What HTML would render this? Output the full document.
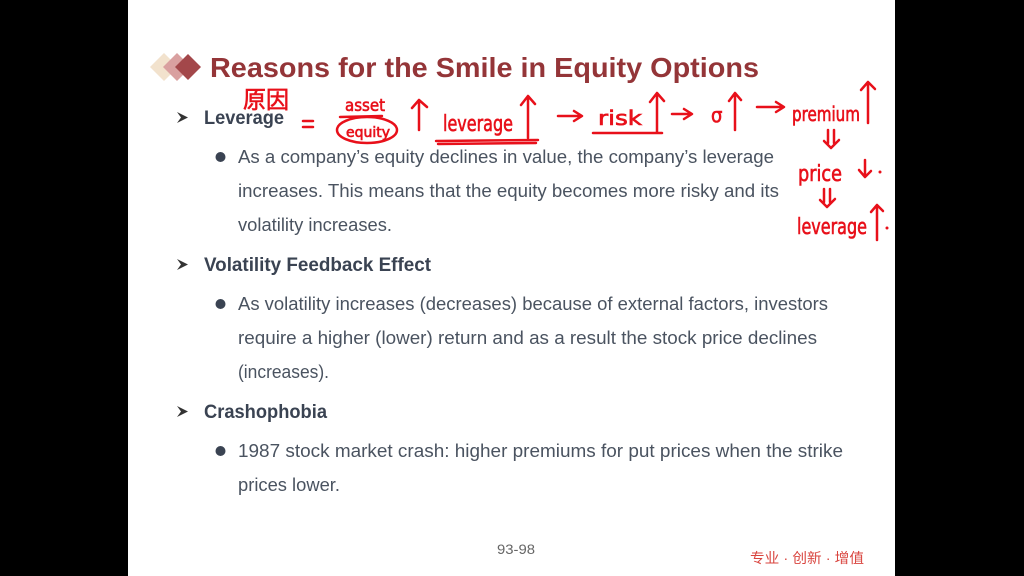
<!DOCTYPE html>
<html><head><meta charset="utf-8"><style>
html,body{margin:0;padding:0;background:#000;}
svg{display:block;}
.b{font-family:"Liberation Sans","Noto Sans CJK SC",sans-serif;}
.h{font-family:"DejaVu Sans Condensed","Liberation Sans Narrow","Liberation Sans","Noto Sans CJK SC",sans-serif;fill:#e8101a;stroke:#e8101a;stroke-width:0.6;}
</style></head><body>
<svg width="1024" height="576" viewBox="0 0 1024 576" xmlns="http://www.w3.org/2000/svg">
<rect width="1024" height="576" fill="#000"/>
<rect x="128" y="0" width="767" height="576" fill="#fff"/>
<polygon points="164,53 178,67 164,81 150,67" fill="#f2e2cd"/>
<polygon points="177,53 191,67 177,81 163,67" fill="#d9a0a0"/>
<polygon points="188,54 201,67 188,80 175,67" fill="#a3474a"/>
<text class="b" x="210" y="77" font-size="28" font-weight="bold" fill="#943538" textLength="549" lengthAdjust="spacingAndGlyphs">Reasons for the Smile in Equity Options</text>

<g fill="#333">
<polygon points="177,112 188,117.5 177,123 181,117.5"/>
<polygon points="177,259 188,264.5 177,270 181,264.5"/>
<polygon points="177,406 188,411.5 177,417 181,411.5"/>
</g>
<g class="b" font-size="19" font-weight="bold" fill="#3a4352">
<text x="204" y="124" textLength="80" lengthAdjust="spacingAndGlyphs">Leverage</text>
<text x="204" y="271" textLength="227" lengthAdjust="spacingAndGlyphs">Volatility Feedback Effect</text>
<text x="204" y="418" textLength="123" lengthAdjust="spacingAndGlyphs">Crashophobia</text>
</g>
<g fill="#3a4352">
<circle cx="220.5" cy="157" r="5"/>
<circle cx="220.5" cy="304" r="5"/>
<circle cx="220.5" cy="451" r="5"/>
</g>
<g class="b" font-size="18" fill="#4a5360">
<text x="238" y="163" textLength="536" lengthAdjust="spacingAndGlyphs">As a company’s equity declines in value, the company’s leverage</text>
<text x="238" y="197" textLength="541" lengthAdjust="spacingAndGlyphs">increases. This means that the equity becomes more risky and its</text>
<text x="238" y="231" textLength="154" lengthAdjust="spacingAndGlyphs">volatility increases.</text>
<text x="238" y="310" textLength="590" lengthAdjust="spacingAndGlyphs">As volatility increases (decreases) because of external factors, investors</text>
<text x="238" y="344" textLength="579" lengthAdjust="spacingAndGlyphs">require a higher (lower) return and as a result the stock price declines</text>
<text x="238" y="378" textLength="91" lengthAdjust="spacingAndGlyphs">(increases).</text>
<text x="238" y="457" textLength="605" lengthAdjust="spacingAndGlyphs">1987 stock market crash: higher premiums for put prices when the strike</text>
<text x="238" y="491" textLength="102" lengthAdjust="spacingAndGlyphs">prices lower.</text>
</g>
<text class="b" x="497" y="554" font-size="14" fill="#666" textLength="38" lengthAdjust="spacingAndGlyphs">93-98</text>
<text class="b" x="750" y="563" font-size="14" fill="#d9453f" textLength="114" lengthAdjust="spacingAndGlyphs">专业 · 创新 · 增值</text>

<!-- handwriting annotations -->
<text class="h" x="243" y="108" font-size="24" textLength="46" lengthAdjust="spacingAndGlyphs">原因</text>
<text class="h" x="345" y="111" font-size="17" textLength="40" lengthAdjust="spacingAndGlyphs">asset</text>
<text class="h" x="346" y="137" font-size="14" textLength="44" lengthAdjust="spacingAndGlyphs">equity</text>
<text class="h" x="443" y="131" font-size="22" textLength="70" lengthAdjust="spacingAndGlyphs">leverage</text>
<text class="h" x="598" y="125" font-size="20" textLength="44" lengthAdjust="spacingAndGlyphs">risk</text>
<text class="h" x="711" y="122" font-size="20">σ</text>
<text class="h" x="792" y="121" font-size="20" textLength="68" lengthAdjust="spacingAndGlyphs">premium</text>
<text class="h" x="798" y="181" font-size="22" textLength="44" lengthAdjust="spacingAndGlyphs">price</text>
<text class="h" x="797" y="234" font-size="22" textLength="70" lengthAdjust="spacingAndGlyphs">leverage</text>
<g fill="none" stroke="#e8101a" stroke-width="2.5" stroke-linecap="round" stroke-linejoin="round">
<path d="M303,121 h10 M303,127 h10"/>
<path d="M340,117 L382,116"/>
<ellipse cx="367" cy="130" rx="30" ry="13"/>
<path d="M419,130 L419,100 M412,108 L419,100 L427,107"/>
<path d="M528,138 L528,96 M521,105 L528,96 L535,104"/>
<path d="M436,141 L538,140 M438,144 L536,143"/>
<path d="M558,116 L580,116 M574,111 L582,116 L574,121"/>
<path d="M657,132 L657,93 M650,102 L657,93 L664,101"/>
<path d="M593,133 L662,133"/>
<path d="M672,114 L690,114 M684,109 L692,114 L684,119"/>
<path d="M735,130 L735,93 M729,101 L735,93 L741,100"/>
<path d="M757,107 L782,107 M776,102 L784,107 L776,112"/>
<path d="M868,123 L868,82 M861,90 L868,82 L875,89"/>
<path d="M828,130 L828,143 M834,130 L834,143 M824,141 L831,148 L839,140"/>
<path d="M865,160 L865,176 M859,170 L865,177 L871,171"/>
<path d="M824,189 L824,202 M830,189 L830,202 M820,200 L827,207 L835,199"/>
<path d="M877,240 L877,205 M871,212 L877,205 L883,211"/>
</g>
<circle cx="880" cy="172" r="1.5" fill="#e8101a"/>
<circle cx="887" cy="228" r="1.5" fill="#e8101a"/>
</svg>
</body></html>
